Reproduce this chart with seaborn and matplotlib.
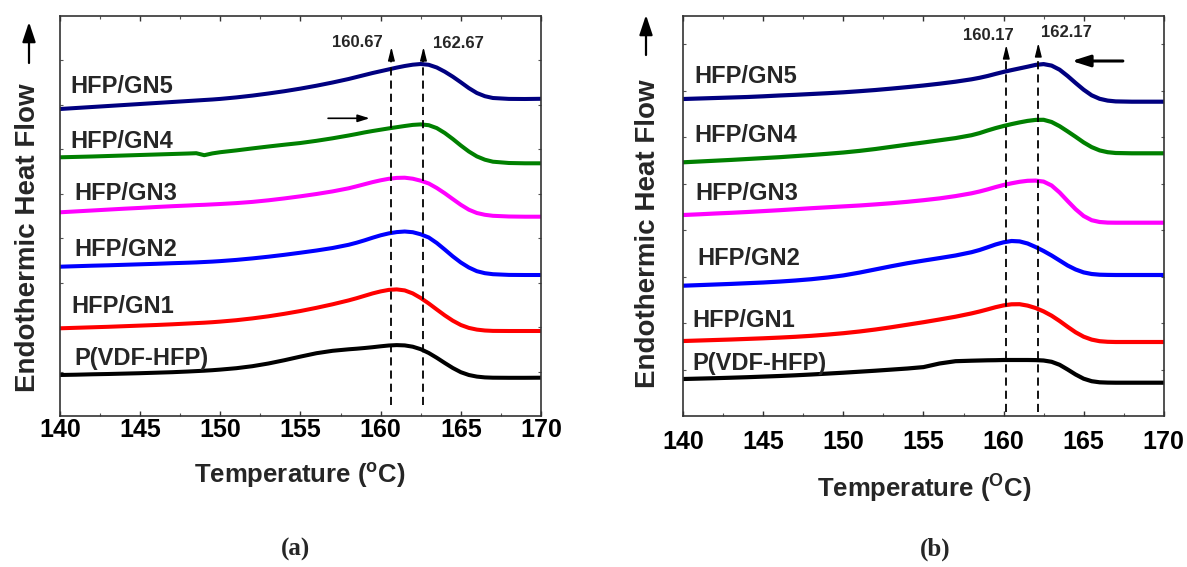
import numpy as np
import pandas as pd
import matplotlib
matplotlib.use("Agg")
import matplotlib.pyplot as plt
import seaborn as sns

# ---------------- data ----------------
samples = ["P(VDF-HFP)", "HFP/GN1", "HFP/GN2", "HFP/GN3", "HFP/GN4", "HFP/GN5"]
colors = ["#000000", "#ff0000", "#0000ff", "#ff00ff", "#008000", "#000080"]

temp_a = [140, 141, 142, 143, 144, 145, 146, 147, 148, 148.5, 149, 149.5,
          150, 151, 152, 153, 154, 155, 156, 157, 158,
          158.5, 159, 159.5, 160, 160.5, 161, 161.5, 162, 162.5, 163, 163.5, 164, 164.5,
          165, 165.5, 166, 166.5, 167, 168, 169, 170]
a_pvdf = [41, 41.3, 41.7, 42, 42.4, 42.8, 43.3, 43.8, 44.5, 44.9, 45.3, 45.8,
          46.4, 47.8, 49.8, 52.5, 55.8, 59.4, 62.8, 65.2, 66.7,
          67.3, 68, 68.8, 69.7, 70.5, 70.9, 70.6, 69.3, 66.8, 63, 58.2, 53, 48,
          43.8, 41, 39.4, 38.6, 38.3, 38.2, 38.2, 38.3]
a_gn1 = [87.7, 88.2, 88.7, 89.2, 89.8, 90.4, 91, 91.7, 92.5, 92.9, 93.3, 93.8,
         94.4, 95.8, 97.6, 99.7, 102.2, 105, 108.2, 111.7, 115.6,
         117.8, 120.2, 122.6, 124.6, 126.1, 126.6, 125.6, 122.6, 118, 112.5, 106.5, 100.6, 95.3,
         91, 88.1, 86.4, 85.5, 85.1, 85, 85, 85]
a_gn2 = [149.3, 149.8, 150.3, 150.7, 151.2, 151.7, 152.2, 152.8, 153.3, 153.6, 154, 154.4,
         154.9, 156.1, 157.6, 159.3, 161.2, 163.3, 165.5, 168, 171.2,
         173.3, 175.7, 178.3, 180.7, 182.6, 183.9, 184.5, 183.8, 181.7, 178.5, 173, 166.4, 159.6,
         153.5, 148.5, 144.8, 142.8, 141.8, 141.1, 141, 141]
a_gn3 = [203.7, 204.6, 205.5, 206.4, 207.3, 208.1, 209, 209.8, 210.5, 210.9, 211.2, 211.6,
         212, 212.9, 214.1, 215.7, 217.6, 219.7, 222, 224.6, 227.7,
         229.7, 231.8, 233.9, 235.7, 237.2, 238.1, 238.3, 237.3, 235.3, 232.5, 228, 222.7, 216.9,
         211.2, 206.3, 203, 201.2, 200.2, 199.5, 199.3, 199.3]
a_gn4 = [258.7, 259.1, 259.5, 260, 260.5, 261, 261.5, 262, 262.5, 262.8, 260.8, 262.6,
         263.8, 265.6, 267.6, 269.5, 271.3, 273, 275.2, 277.7, 280.5,
         282, 283.6, 285, 286.3, 287.6, 288.8, 290, 291.1, 291.6, 290.8, 287.9, 283, 277,
         270.5, 264.5, 259.6, 256.3, 254.3, 253, 252.7, 252.7]
a_gn5 = [307, 308, 309, 310, 311, 312, 313, 314, 315, 315.5, 316, 316.5,
         317.1, 318.6, 320.4, 322.5, 324.8, 327.4, 330.3, 333.5, 337,
         339, 341, 343, 344.8, 346.6, 348.4, 350, 351.3, 352, 351.2, 348.5, 344.3, 339.3,
         333.7, 327.9, 323, 319.8, 318, 317.1, 317, 317.2]

temp_b = [140, 141, 142, 143, 144, 145, 146, 147, 148, 149,
          150, 151, 152, 153, 154, 155, 156, 157, 158,
          158.5, 159, 159.5, 160, 160.5, 161, 161.5, 162, 162.5, 163, 163.5, 164, 164.5,
          165, 165.5, 166, 166.5, 167, 168, 169, 170]
b_pvdf = [37, 37.4, 37.8, 38.3, 38.8, 39.4, 40, 40.7, 41.5, 42.4,
          43.3, 44.3, 45.3, 46.4, 47.5, 48.9, 52.5, 54.8, 55.3,
          55.5, 55.7, 55.8, 56, 56, 56, 56, 55.9, 55.5, 54.2, 51.2, 46.5, 41.5,
          37.3, 34.8, 33.7, 33.4, 33.3, 33.3, 33.3, 33.3]
b_gn1 = [75, 75.5, 76, 76.5, 77.1, 77.7, 78.4, 79.2, 80.2, 81.4,
         82.8, 84.5, 86.5, 88.8, 91.3, 93.8, 96.5, 99.3, 102.6,
         104.5, 106.6, 108.8, 110.6, 111.7, 111.8, 110.4, 108, 104.6, 100.3, 95, 89.2, 83.7,
         79.3, 76.4, 74.8, 74.2, 74, 74, 74, 74]
b_gn2 = [130.3, 130.9, 131.5, 132.1, 132.8, 133.5, 134.4, 135.5, 136.8, 138.5,
         140.6, 143.4, 146.6, 149.8, 152.8, 155.4, 157.9, 160.5, 163.8,
         166, 168.7, 171.5, 173.7, 175, 174.6, 172.5, 169, 165, 160.5, 155.5, 150.5, 146.5,
         143.6, 142, 141.3, 141.1, 141, 141, 141, 141]
b_gn3 = [201, 201.7, 202.5, 203.2, 204, 204.9, 205.8, 206.8, 207.8, 208.7,
         209.6, 210.5, 211.6, 212.8, 214.2, 215.8, 217.6, 219.9, 222.7,
         224.5, 226.6, 228.9, 231, 232.7, 234.2, 235.2, 235.4, 234.4, 230.5, 223.5, 215, 206.8,
         200, 195.8, 194, 193.4, 193.3, 193.3, 193.3, 193.3]
b_gn4 = [253.7, 254.5, 255.3, 256.1, 257, 257.9, 258.8, 259.9, 261, 262.2,
         263.5, 265.1, 267, 269.2, 271.4, 273.5, 275.7, 277.9, 280.8,
         282.9, 285.5, 287.9, 290, 291.9, 293.6, 295.1, 296.1, 296.2, 294, 289.8, 284.6, 279.2,
         273.6, 268.9, 265.6, 263.8, 263, 262.7, 262.7, 262.7]
b_gn5 = [317, 317.5, 318, 318.5, 319, 319.7, 320.5, 321.2, 322, 322.8,
         323.7, 324.8, 326, 327.4, 328.9, 330.5, 332.3, 334.3, 336.7,
         338.2, 340, 342.1, 344.1, 345.9, 347.6, 349.3, 351.1, 351.9, 350.4, 346.3, 340, 333,
         326.3, 320.7, 317.2, 315.4, 314.6, 314.3, 314.3, 314.3]

peaks_a = [160.67, 162.67]
peaks_b = [160.17, 162.17]
peak_labels_a = ["160.67", "162.67"]
peak_labels_b = ["160.17", "162.17"]

xticks = [140, 145, 150, 155, 160, 165, 170]

# ---------------- style ----------------
sns.set_style("ticks")
plt.rcParams["font.family"] = ["Liberation Sans", "DejaVu Sans"]
plt.rcParams["font.weight"] = "bold"
plt.rcParams["mathtext.fontset"] = "custom"
plt.rcParams["mathtext.rm"] = "Liberation Sans:bold"
plt.rcParams["mathtext.it"] = "Liberation Sans:bold"
plt.rcParams["mathtext.bf"] = "Liberation Sans:bold"

palette = dict(zip(samples, colors))


def long_df(temp, series):
    rows = []
    for name, vals in zip(samples, series):
        rows.append(pd.DataFrame({"T": temp, "heat": vals, "sample": name}))
    return pd.concat(rows, ignore_index=True)


df_a = long_df(temp_a, [a_pvdf, a_gn1, a_gn2, a_gn3, a_gn4, a_gn5])
df_b = long_df(temp_b, [b_pvdf, b_gn1, b_gn2, b_gn3, b_gn4, b_gn5])

W, H = 1187, 567
fig = plt.figure(figsize=(W / 100, H / 100), dpi=100)

ax_a = fig.add_axes([60 / W, 1 - 416 / H, 481 / W, 400.5 / H])
ax_b = fig.add_axes([683.3 / W, 1 - 416 / H, 480.4 / W, 400.5 / H])


def style_axes(ax, pad, ytick_step):
    ax.set_xlim(140, 170)
    ax.set_ylim(0, 400.5)
    ax.set_xticks(xticks)
    ax.set_xticks(np.arange(142.5, 170, 5), minor=True)
    ax.set_yticks(np.arange(ytick_step, 400, ytick_step))
    ax.set_yticklabels([])
    ax.tick_params(axis="x", which="major", direction="in", length=3.5, width=1,
                   top=True, bottom=True, labelsize=18, pad=pad, colors="#333333",
                   labelcolor="black")
    ax.tick_params(axis="x", which="minor", direction="in", length=2, width=0.8,
                   top=True, bottom=True, colors="#555555")
    ax.tick_params(axis="y", which="major", direction="in", length=2, width=0.8,
                   left=True, right=True, colors="#555555")
    for lab in ax.get_xticklabels():
        lab.set_fontweight("bold")
    for s in ax.spines.values():
        s.set_visible(True)
        s.set_linewidth(1.2)
        s.set_color("#333333")
    ax.set_ylabel("")


# ---------------- panel (a) ----------------
sns.lineplot(data=df_a, x="T", y="heat", hue="sample", hue_order=samples, palette=palette,
             linewidth=2.9, legend=False, estimator=None, sort=False, ax=ax_a)
style_axes(ax_a, 1.5, 44.5)
ax_a.set_xlabel("Temperature ($^{\\mathrm{o}}$C)", fontsize=18.5, fontweight="bold")
ax_a.xaxis.set_label_coords(0.499, -0.112)

labels_a = [(140.87, 51), (140.69, 103), (140.87, 160), (140.87, 216), (140.62, 268), (140.62, 323)]
for name, (tx, ty) in zip(samples, labels_a):
    ax_a.text(tx, ty, name, fontsize=17, fontweight="bold", ha="left", va="baseline")

for p, lab, (lx, ly) in zip(peaks_a, peak_labels_a, [(158.53, 369.3), (164.85, 367.7)]):
    ax_a.plot([p, p], [11, 358], color="black", lw=1.3, dashes=(4.5, 2.8))
    ax_a.annotate("", xy=(p, 369), xytext=(p, 357),
                  arrowprops=dict(arrowstyle="-|>,head_length=0.8,head_width=0.2",
                                  color="black", lw=1, shrinkA=0, shrinkB=0))
    ax_a.text(lx, ly, lab, fontsize=12, fontweight="bold", ha="center", va="baseline")

ax_a.annotate("", xy=(159.31, 297.7), xytext=(156.72, 297.7),
              arrowprops=dict(arrowstyle="-|>,head_length=0.7,head_width=0.22",
                              color="black", lw=1.2, shrinkA=0, shrinkB=0))

# ---------------- panel (b) ----------------
sns.lineplot(data=df_b, x="T", y="heat", hue="sample", hue_order=samples, palette=palette,
             linewidth=3.0, legend=False, estimator=None, sort=False, ax=ax_b)
style_axes(ax_b, 10, 46.5)
ax_b.set_xlabel("Temperature ($^{\\mathrm{O}}$C)", fontsize=18.5, fontweight="bold")
ax_b.xaxis.set_label_coords(0.501, -0.142)

labels_b = [(140.54, 46), (140.54, 89), (140.86, 151), (140.73, 216), (140.67, 274), (140.67, 333)]
for name, (tx, ty) in zip(samples, labels_b):
    ax_b.text(tx, ty, name, fontsize=17, fontweight="bold", ha="left", va="baseline")

for p, lab, (lx, ly), (tip, base) in zip(peaks_b, peak_labels_b,
                                         [(159.03, 376), (163.9, 379)],
                                         [(371, 359), (373, 362)]):
    ax_b.plot([p, p], [4.3, base], color="black", lw=1.3, dashes=(4.5, 2.8))
    ax_b.annotate("", xy=(p, tip), xytext=(p, base - 1),
                  arrowprops=dict(arrowstyle="-|>,head_length=0.8,head_width=0.2",
                                  color="black", lw=1, shrinkA=0, shrinkB=0))
    ax_b.text(lx, ly, lab, fontsize=12, fontweight="bold", ha="center", va="baseline")

ax_b.annotate("", xy=(164.26, 355), xytext=(167.45, 355),
              arrowprops=dict(arrowstyle="-|>,head_length=1.1,head_width=0.35",
                              color="black", lw=2.2, shrinkA=0, shrinkB=0))

# ---------------- y labels with arrows ----------------
for xc, yc, ax_x, tip, tail in [(28, 237.5, 29, 22, 63), (648, 234, 646, 15, 55)]:
    fig.text(xc / W, 1 - yc / H, "Endothermic Heat Flow", rotation=90, fontsize=20,
             fontweight="bold", ha="center", va="center")
    fig.add_artist(matplotlib.patches.FancyArrowPatch(
        (ax_x / W, 1 - tail / H), (ax_x / W, 1 - tip / H), transform=fig.transFigure,
        arrowstyle="-|>,head_length=12,head_width=4", color="black", lw=1.6,
        shrinkA=0, shrinkB=0))

# ---------------- panel letters ----------------
for xc, txt in [(295, "(a)"), (935, "(b)")]:
    fig.text(xc / W, 1 - 549 / H, txt, fontsize=18, fontweight="bold",
             family=["Liberation Serif", "DejaVu Serif"], ha="center", va="center")

fig.savefig("out.png", dpi=100)
